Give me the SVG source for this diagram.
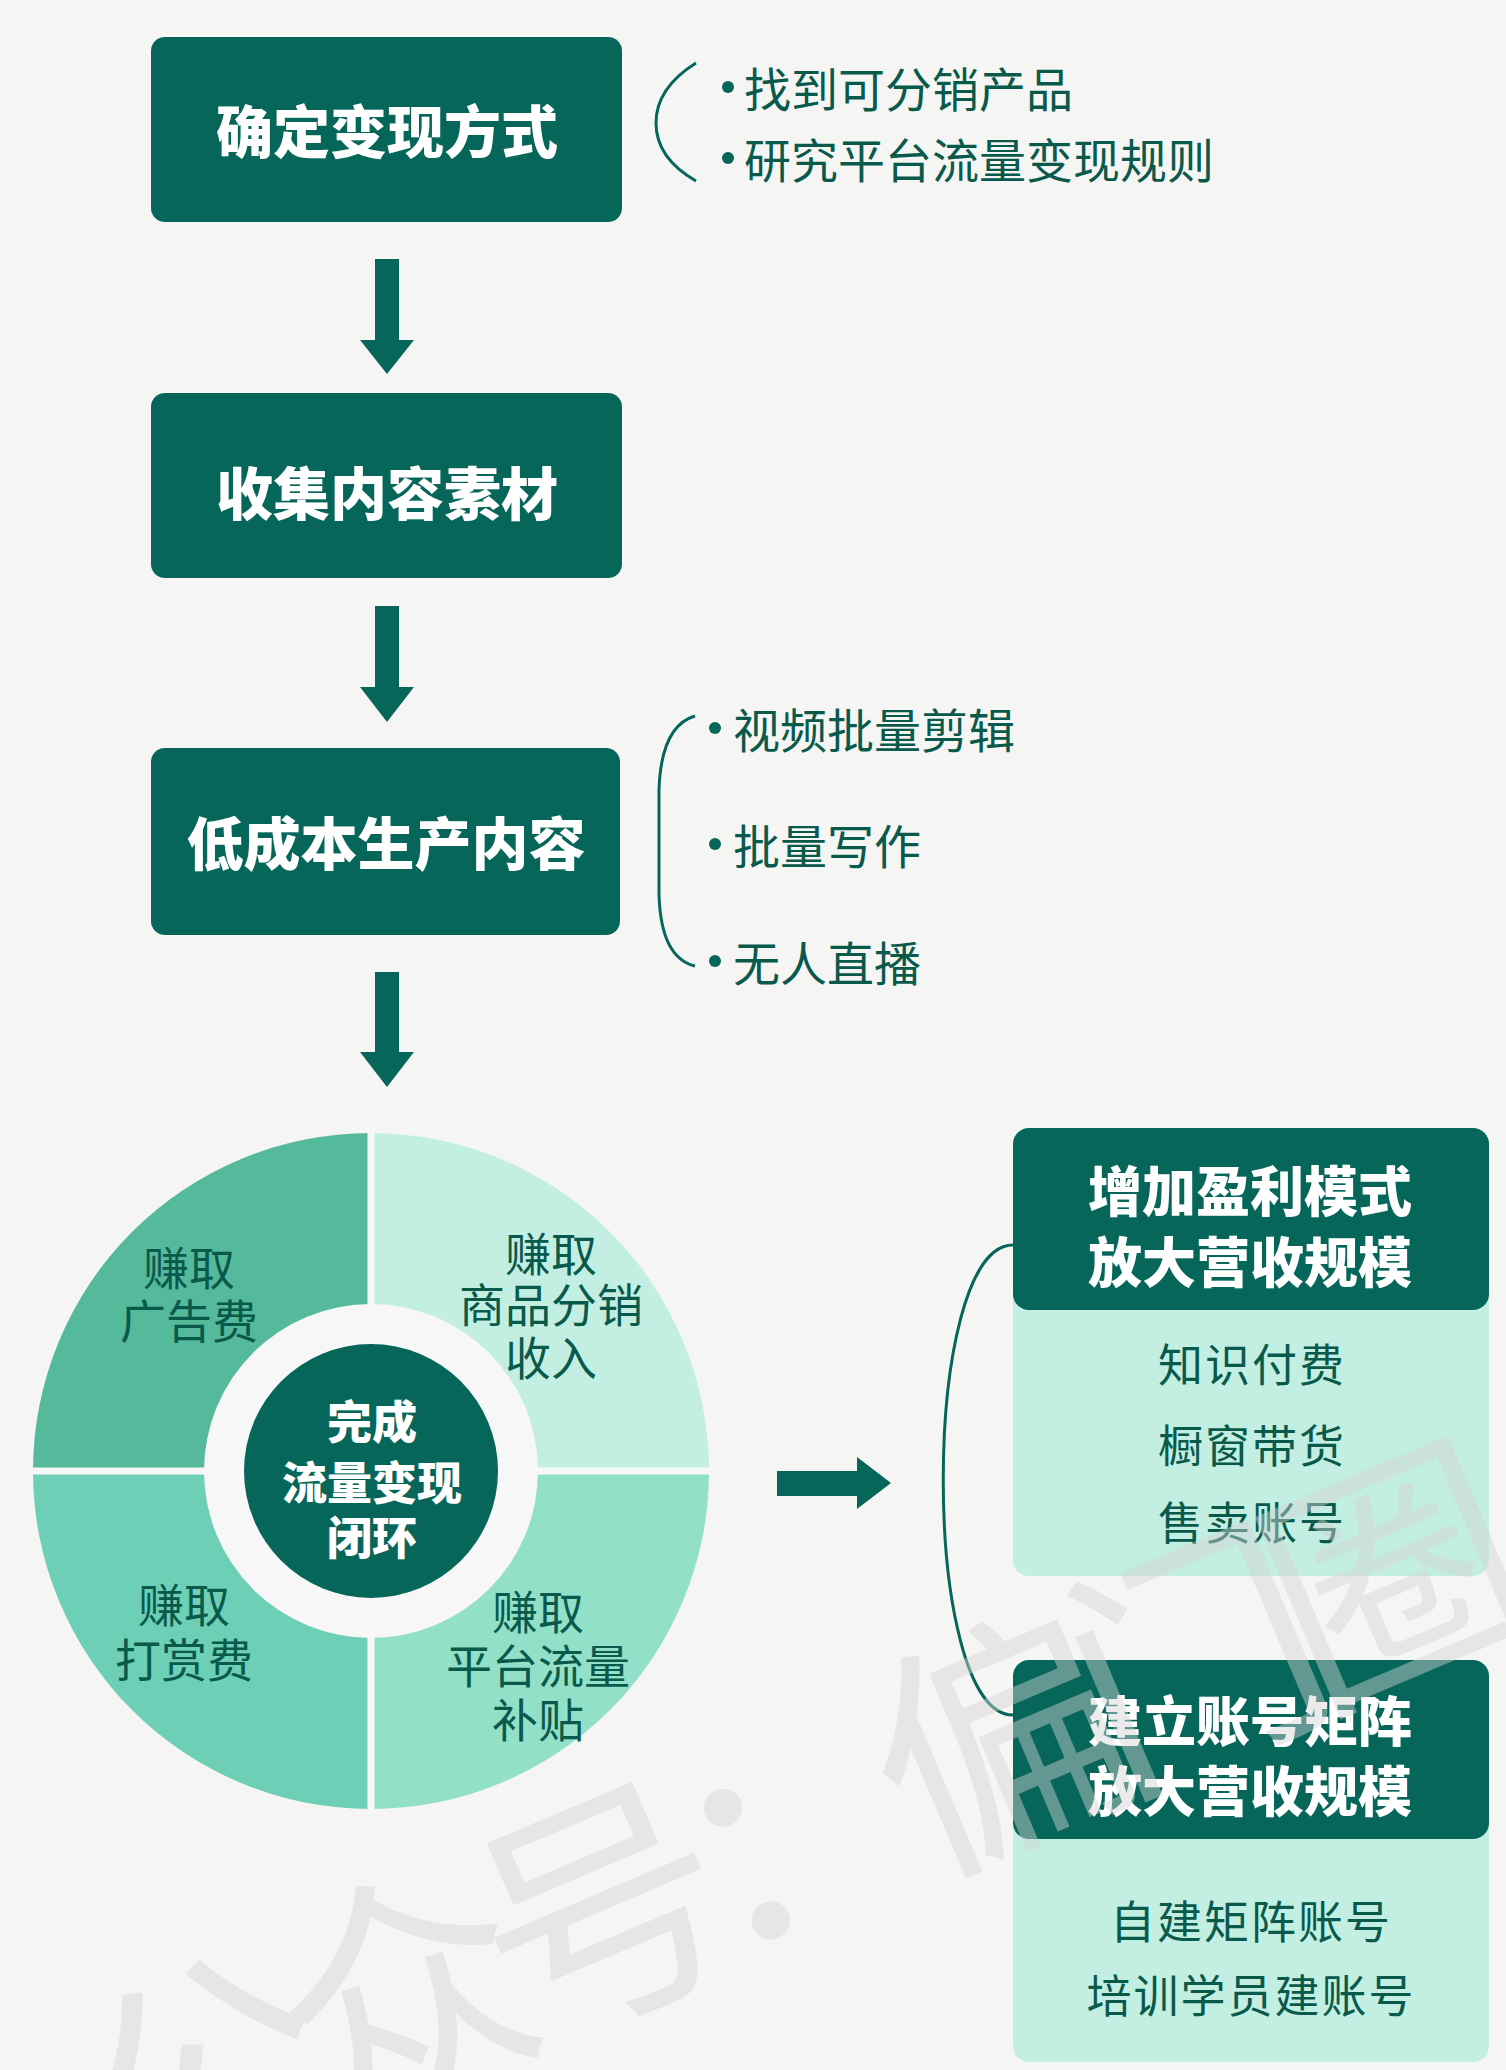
<svg xmlns="http://www.w3.org/2000/svg" width="1506" height="2070" viewBox="0 0 1506 2070">
<style>
.bg{fill:#f5f5f4}
.dk{fill:#07665a}
.lt{fill:#c2efe1}
.ttl{font-family:"Noto Sans CJK SC","Noto Sans",sans-serif;font-weight:900;fill:#ffffff;text-anchor:middle;dominant-baseline:central}
.itm{font-family:"Noto Sans CJK SC","Noto Sans",sans-serif;font-weight:400;fill:#0a5a4c;dominant-baseline:central}
.ctr{text-anchor:middle}
.brace{fill:none;stroke:#07665a;stroke-width:3}
.arr{fill:#07665a}
.dot{fill:#07665a}
.wm{font-family:"Noto Sans CJK SC",sans-serif;font-size:250px;fill:#d4d4d4;opacity:0.45}
</style>
<rect class="bg" x="0" y="0" width="1506" height="2070"/>

<g id="connectors">
  <path class="arr" d="M375,259 H399 V340 H414 L387,374 L360,340 H375 Z"/>
  <path class="arr" d="M375,606 H399 V687 H414 L387,722 L360,687 H375 Z"/>
  <path class="arr" d="M375,972 H399 V1052 H414 L387,1087 L360,1052 H375 Z"/>
  <path class="arr" d="M777,1471 V1496 H857 V1509 L891,1483 L857,1457 V1471 Z"/>
  <path class="brace" d="M696,63 Q656,88 656,123 Q656,158 696,181"/>
  <path class="brace" d="M695,716 Q661,726 659,790 L659,895 Q661,958 695,966"/>
  <path class="brace" d="M1013,1245 C920,1245 920,1715 1013,1715"/>
</g>

<g id="node-step1">
  <rect class="dk" x="151" y="37" width="471" height="185" rx="14"/>
  <text class="ttl" x="387" y="128" font-size="57">确定变现方式</text>
</g>
<g id="notes-step1">
  <circle class="dot" cx="728" cy="87" r="6"/>
  <text class="itm" x="744" y="86" font-size="47">找到可分销产品</text>
  <circle class="dot" cx="728" cy="158" r="6"/>
  <text class="itm" x="744" y="157" font-size="47">研究平台流量变现规则</text>
</g>

<g id="node-step2">
  <rect class="dk" x="151" y="393" width="471" height="185" rx="14"/>
  <text class="ttl" x="387" y="490" font-size="57">收集内容素材</text>
</g>

<g id="node-step3">
  <rect class="dk" x="151" y="748" width="469" height="187" rx="14"/>
  <text class="ttl" x="386" y="840" font-size="57">低成本生产内容</text>
</g>
<g id="notes-step3">
  <circle class="dot" cx="715" cy="728" r="6"/>
  <text class="itm" x="733" y="727" font-size="47">视频批量剪辑</text>
  <circle class="dot" cx="715" cy="844" r="6"/>
  <text class="itm" x="733" y="843" font-size="47">批量写作</text>
  <circle class="dot" cx="715" cy="961" r="6"/>
  <text class="itm" x="733" y="960" font-size="47">无人直播</text>
</g>

<g id="node-cycle">
  <path fill="#55b99b" d="M371,1471 L33,1471 A338,338 0 0 1 371,1133 Z"/>
  <path fill="#c3efe2" d="M371,1471 L371,1133 A338,338 0 0 1 709,1471 Z"/>
  <path fill="#6dcfb5" d="M371,1471 L33,1471 A338,338 0 0 0 371,1809 Z"/>
  <path fill="#93e0c9" d="M371,1471 L371,1809 A338,338 0 0 0 709,1471 Z"/>
  <line x1="371" y1="1128" x2="371" y2="1814" stroke="#f7f7f7" stroke-width="7"/>
  <line x1="28" y1="1471" x2="714" y2="1471" stroke="#f7f7f7" stroke-width="7"/>
  <circle cx="371" cy="1471" r="167" fill="#f7f7f7"/>
  <circle class="dk" cx="371" cy="1471" r="127"/>
  <text class="ttl" x="372" y="1419" font-size="45">完成</text>
  <text class="ttl" x="372" y="1480" font-size="45">流量变现</text>
  <text class="ttl" x="372" y="1535" font-size="45">闭环</text>
  <text class="itm ctr" x="189" y="1265" font-size="46">赚取</text>
  <text class="itm ctr" x="189" y="1318" font-size="46">广告费</text>
  <text class="itm ctr" x="551" y="1251" font-size="46">赚取</text>
  <text class="itm ctr" x="551" y="1302" font-size="46">商品分销</text>
  <text class="itm ctr" x="551" y="1355" font-size="46">收入</text>
  <text class="itm ctr" x="184" y="1602" font-size="46">赚取</text>
  <text class="itm ctr" x="184" y="1657" font-size="46">打赏费</text>
  <text class="itm ctr" x="538" y="1609" font-size="46">赚取</text>
  <text class="itm ctr" x="538" y="1663" font-size="46">平台流量</text>
  <text class="itm ctr" x="538" y="1717" font-size="46">补贴</text>
</g>

<g id="node-profit">
  <rect class="lt" x="1013" y="1128" width="476" height="448" rx="16"/>
  <rect class="dk" x="1013" y="1128" width="476" height="182" rx="16"/>
  <text class="ttl" x="1250" y="1188" font-size="54">增加盈利模式</text>
  <text class="ttl" x="1250" y="1259" font-size="54">放大营收规模</text>
  <text class="itm ctr" x="1252" y="1362" font-size="45" letter-spacing="2">知识付费</text>
  <text class="itm ctr" x="1252" y="1443" font-size="45" letter-spacing="2">橱窗带货</text>
  <text class="itm ctr" x="1252" y="1520" font-size="45" letter-spacing="2">售卖账号</text>
</g>

<g id="node-matrix">
  <rect class="lt" x="1013" y="1660" width="476" height="402" rx="16"/>
  <rect class="dk" x="1013" y="1660" width="476" height="179" rx="16"/>
  <text class="ttl" x="1250" y="1718" font-size="54">建立账号矩阵</text>
  <text class="ttl" x="1250" y="1788" font-size="54">放大营收规模</text>
  <text class="itm ctr" x="1251" y="1919" font-size="45" letter-spacing="2">自建矩阵账号</text>
  <text class="itm ctr" x="1251" y="1993" font-size="45" letter-spacing="2">培训学员建账号</text>
</g>

<g id="watermark">
  <text class="wm" transform="translate(84,2113) rotate(-23)" dominant-baseline="central" letter-spacing="-35">公众号：偏门圈</text>
</g>
</svg>
